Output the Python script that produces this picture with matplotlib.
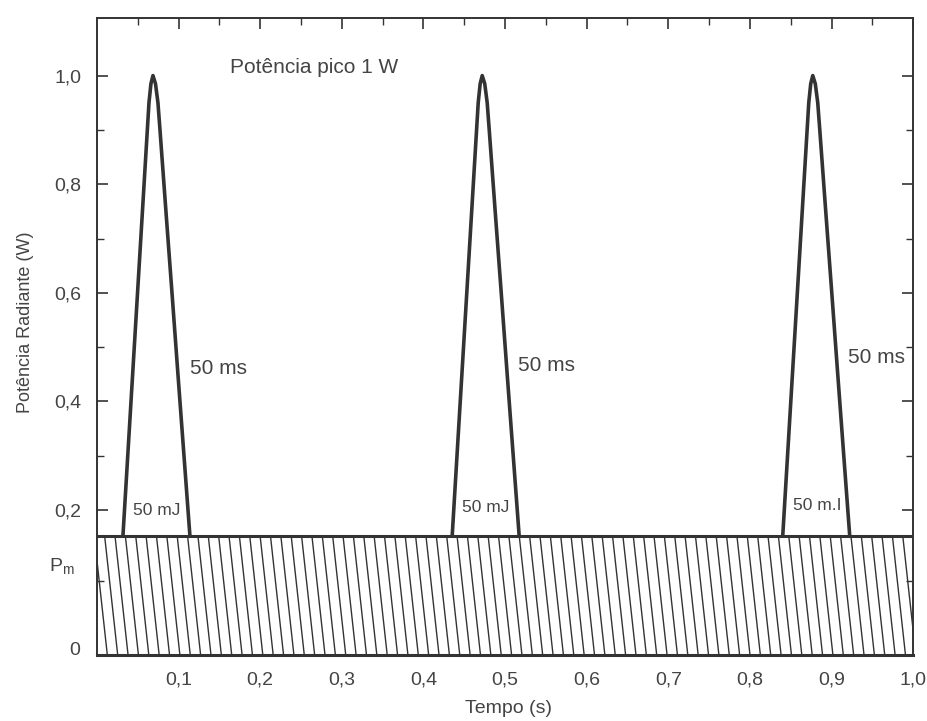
import matplotlib
matplotlib.use('Agg')
import matplotlib.pyplot as plt
import numpy as np
from matplotlib.patches import Rectangle

plt.rcParams['font.family'] = ['Liberation Sans', 'DejaVu Sans']

# pulse shape: time offset from the peak (s) and power (W)
pulse_dt = [-0.0368, -0.0309, -0.0249, -0.0189, -0.0129, -0.0069, -0.0049, -0.0025, 0.0,
            0.0031, 0.0061, 0.0086, 0.0159, 0.0233, 0.0306, 0.0380, 0.0453]
pulse_p = [0.152, 0.30, 0.45, 0.60, 0.75, 0.90, 0.95, 0.985, 1.0,
           0.985, 0.95, 0.90, 0.75, 0.60, 0.45, 0.30, 0.152]
peak_times = [0.0686, 0.472, 0.877]

# mean power level (hatched block)
p_mean_top = 0.152
y_bottom = -0.067

ms_labels = ['50 ms', '50 ms', '50 ms']
ms_pos = [(0.114, 0.461), (0.516, 0.467), (0.920, 0.480)]
mj_labels = ['50 mJ', '50 mJ', '50 m.I']
mj_pos = [(0.044, 0.200), (0.447, 0.204), (0.853, 0.208)]

ytick_vals = [0.2, 0.4, 0.6, 0.8, 1.0]
ytick_labels = ['0,2', '0,4', '0,6', '0,8', '1,0']
xtick_vals = [0.1, 0.2, 0.3, 0.4, 0.5, 0.6, 0.7, 0.8, 0.9, 1.0]
xtick_labels = ['0,1', '0,2', '0,3', '0,4', '0,5', '0,6', '0,7', '0,8', '0,9', '1,0']

ink = '#333333'
txt = '#444444'

fig = plt.figure(figsize=(9.28, 7.21), dpi=100)
ax = fig.add_axes([0.1045, 0.0915, 0.8795, 0.8835])

ax.set_xlim(0, 1.0)
ax.set_ylim(y_bottom, 1.106)

# hatched block
block = Rectangle((0, y_bottom), 1.0, p_mean_top - y_bottom, facecolor='white',
                  edgecolor='none', zorder=1)
ax.add_patch(block)
hatch_step = 0.0127
hatch_slant = 0.016
for x0 in np.arange(-hatch_slant, 1.0, hatch_step):
    ln, = ax.plot([x0, x0 + hatch_slant], [p_mean_top, y_bottom], color=ink, lw=1.0, zorder=2)
    ln.set_clip_path(block)
ax.plot([0, 1.0], [p_mean_top, p_mean_top], color=ink, lw=2.2, zorder=3)

# pulses
for tp in peak_times:
    ax.plot([tp + d for d in pulse_dt], pulse_p, color=ink, lw=2.6, zorder=4,
            solid_joinstyle='round')

for lab, (x, y) in zip(ms_labels, ms_pos):
    ax.text(x, y, lab, fontsize=15, color=txt, ha='left', va='center')
for lab, (x, y) in zip(mj_labels, mj_pos):
    ax.text(x, y, lab, fontsize=12.5, color=txt, ha='left', va='center')

ax.text(0.266, 1.014, 'Potência pico 1 W', fontsize=15, color=txt, ha='center', va='center')

# axes styling
for s in ax.spines.values():
    s.set_color(ink)
    s.set_linewidth(1.4)
ax.spines['bottom'].set_linewidth(2.2)

ax.set_xticks(xtick_vals)
ax.set_xticklabels(xtick_labels)
ax.set_xticks([0.05 + 0.1 * i for i in range(10)], minor=True)
ax.set_yticks(ytick_vals)
ax.set_yticklabels(ytick_labels)
ax.set_yticks([0.3, 0.5, 0.7, 0.9, 0.07], minor=True)

ax.tick_params(axis='x', which='both', direction='in', top=True, bottom=False,
               labelsize=14, labelcolor=txt, color=ink, pad=12)
ax.tick_params(axis='x', which='major', length=8, width=1.2)
ax.tick_params(axis='x', which='minor', length=5, width=1.0)
ax.tick_params(axis='y', which='both', direction='in', left=True, right=True,
               labelsize=14, labelcolor=txt, color=ink, pad=11)
ax.tick_params(axis='y', which='major', length=8, width=1.2)
ax.tick_params(axis='y', which='minor', length=5, width=1.0)

# extra y labels for the broken axis
yax = ax.get_yaxis_transform()
ax.text(-0.027, 0.095, r'P$_{\mathregular{m}}$', transform=yax, fontsize=14, color=txt,
        ha='right', va='center')
ax.text(-0.021, -0.058, '0', transform=yax, fontsize=14, color=txt, ha='right', va='center')

ax.set_xlabel('Tempo (s)', fontsize=14, color=txt)
ax.xaxis.set_label_coords(0.504, -0.07)
ax.set_ylabel('Potência Radiante (W)', fontsize=13, color=txt)
ax.yaxis.set_label_coords(-0.077, 0.523)

fig.savefig('out.png', dpi=100)
